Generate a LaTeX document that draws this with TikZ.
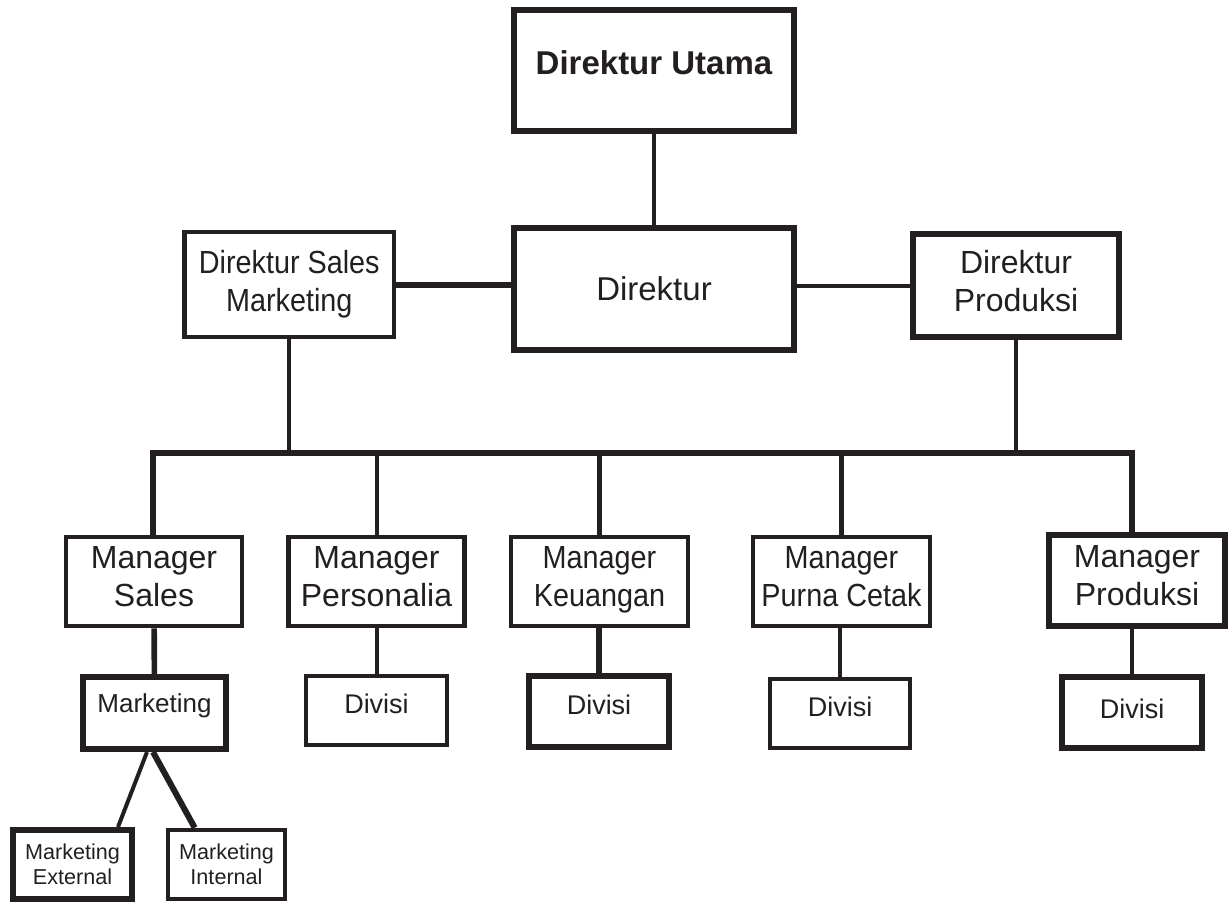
\documentclass[tikz,border=0pt]{standalone}
\usepackage{fontspec}
\setmainfont{Liberation Sans}
\usepackage{graphicx}
\usetikzlibrary{calc}
\definecolor{ink}{HTML}{231F20}
\newcommand{\narrow}[1]{\scalebox{0.9}[1]{#1}}

\begin{document}
\begin{tikzpicture}[x=0.5pt,y=-0.5pt,
  box/.style={draw=ink,text=ink,line width=2.3pt,inner sep=0pt,align=center},
  hbox/.style={box,line width=3pt},
  mgr/.style={minimum width=88pt,minimum height=44.5pt,font=\fontsize{16}{19}\selectfont,text height=30.5pt,text depth=5.5pt},
  divbox/.style={minimum width=70pt,minimum height=35pt,font=\fontsize{13.5}{16}\selectfont,text height=9.7pt,text depth=7pt},
  smallbox/.style={minimum height=34.5pt,font=\fontsize{10.8}{12.5}\selectfont},
  wire/.style={ink,line width=2pt},
  hwire/.style={ink,line width=2.8pt}]
  \useasboundingbox (0,0) rectangle (1229,901);

  \node[box,line width=2.6pt,minimum width=140pt,minimum height=60.5pt,font=\bfseries\fontsize{16.5}{20}\selectfont,text height=11.8pt,text depth=8pt] (utama) at (654,70.5) {Direktur Utama};
  \node[box,line width=2.6pt,minimum width=140pt,minimum height=61pt,font=\fontsize{16.5}{20}\selectfont] (dir) at (654,289) {Direktur};
  \node[box,minimum width=104.75pt,minimum height=52.5pt,font=\fontsize{16}{19}\selectfont] (dsm) at (289.25,284.5) {\narrow{Direktur Sales}\\\narrow{Marketing}};
  \node[box,line width=2.6pt,minimum width=103pt,minimum height=51.5pt,font=\fontsize{16}{19}\selectfont,text height=30.5pt,text depth=4.5pt] (dprod) at (1016,285.5) {Direktur\\Produksi};

  \node[box,mgr] (msales) at (154,581.5) {Manager\\Sales};
  \node[box,mgr] (mpers) at (376.5,581.5) {Manager\\Personalia};
  \node[box,mgr,minimum width=88.5pt] (mkeu) at (599.5,581.5) {\narrow{Manager}\\\narrow{Keuangan}};
  \node[box,mgr,minimum width=88.5pt] (mpc) at (841.5,581.5) {\narrow{Manager}\\\narrow{Purna Cetak}};
  \node[hbox,mgr,minimum height=45.5pt] (mprod) at (1137,580.5) {Manager\\Produksi};

  \node[hbox,minimum width=71.5pt,minimum height=36pt,font=\fontsize{13}{16}\selectfont,text height=9.3pt,text depth=10pt] (mkt) at (154.5,713) {Marketing};
  \node[box,divbox,minimum width=70.5pt,minimum height=34.5pt] (dvpers) at (376.5,710.5) {Divisi};
  \node[hbox,divbox,minimum height=35.5pt] (dvkeu) at (599,711.5) {Divisi};
  \node[box,divbox,minimum height=34.5pt] (dvpc) at (840,713.5) {Divisi};
  \node[box,line width=2.6pt,divbox,minimum height=35.5pt,text height=9.7pt,text depth=4pt] (dvprod) at (1132,712.5) {Divisi};

  \node[hbox,smallbox,minimum width=59.5pt] (mext) at (72.5,864.5) {Marketing\\External};
  \node[box,smallbox,minimum width=58.5pt] (mint) at (226.5,864.5) {Marketing\\Internal};

  \coordinate (busL) at (153,453);
  \coordinate (busR) at (1132,453);

  \draw[wire] (utama) -- (dir);
  \draw[hwire,line width=3pt] (dsm.east) -- (dsm.east -| dir.west);
  \draw[wire] (dprod.west -| dir.east) -- (dprod.west);
  \draw[wire] (dsm.south) -- (dsm.south |- busL);
  \draw[wire] (dprod.south) -- (dprod.south |- busR);
  \draw[hwire] (busL |- msales.north) -- (busL) -- (busR) -- (busR |- mprod.north);
  \draw[wire] (mpers.north |- busL) -- (mpers.north);
  \draw[hwire] (mkeu.north |- busL) -- (mkeu.north);
  \draw[hwire] (mpc.north |- busL) -- (mpc.north);

  \draw[hwire] (msales) -- (mkt);
  \draw[wire] (mpers) -- (dvpers);
  \draw[hwire] (dvkeu.north |- mkeu.south) -- (dvkeu.north);
  \draw[wire] (dvpc.north |- mpc.south) -- (dvpc.north);
  \draw[wire] (dvprod.north |- mprod.south) -- (dvprod.north);
  \draw[wire] ([xshift=-3.75pt]mkt.south) -- ([xshift=-8.5pt]mext.north east);
  \draw[hwire,line width=3pt] ([xshift=-0.75pt]mkt.south) -- ([xshift=14.5pt]mint.north west);
\end{tikzpicture}
\end{document}
